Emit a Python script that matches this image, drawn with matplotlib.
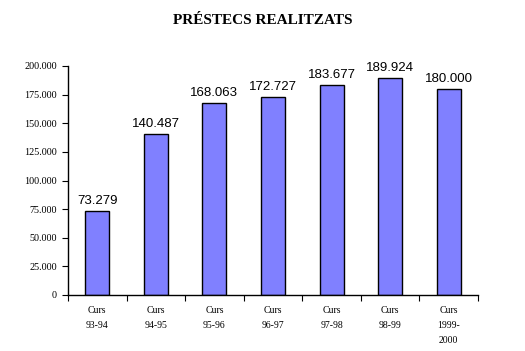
import matplotlib
matplotlib.use("Agg")
import matplotlib.pyplot as plt
from matplotlib.ticker import FuncFormatter

categories = ["Curs\n93-94", "Curs\n94-95", "Curs\n95-96", "Curs\n96-97", "Curs\n97-98", "Curs\n98-99", "Curs\n1999-\n2000"]
values = [73279, 140487, 168063, 172727, 183677, 189924, 180000]
value_labels = ["73.279", "140.487", "168.063", "172.727", "183.677", "189.924", "180.000"]
yticks = [0, 25000, 50000, 75000, 100000, 125000, 150000, 175000, 200000]

plt.rcParams['font.family'] = ['Liberation Serif', 'DejaVu Serif']

fig = plt.figure(figsize=(5.25, 3.51), dpi=100)
ax = fig.add_axes([68/525, 1-295/351, (478-68)/525, (295-66)/351])

x = list(range(len(values)))
ax.bar(x, values, width=0.41, color='#8080FF', edgecolor='black', linewidth=1.0)
for xi, v, lab in zip(x, values, value_labels):
    ax.text(xi, v + 3500, lab, ha='center', va='bottom', fontsize=9.5, family=['Liberation Sans', 'DejaVu Sans'])

ax.set_xlim(-0.5, len(values) - 0.5)
ax.set_ylim(0, 200000)
ax.set_yticks(yticks)
ax.yaxis.set_major_formatter(FuncFormatter(lambda v, p: "0" if v == 0 else f"{int(v):,}".replace(",", ".")))
ax.tick_params(axis='y', direction='out', length=4, labelsize=7.3, pad=4)

ax.set_xticks([i - 0.5 for i in range(len(values) + 1)])
ax.set_xticklabels([])
ax.set_xticks(x, minor=True)
ax.set_xticklabels(categories, minor=True, fontsize=7, linespacing=1.85, va='top')
ax.tick_params(axis='x', which='major', direction='out', length=4)
ax.tick_params(axis='x', which='minor', length=0, pad=8)

for s in ['top', 'right']:
    ax.spines[s].set_visible(False)
for s in ['left', 'bottom']:
    ax.spines[s].set_linewidth(1.0)

fig.text(0.5, 1 - 20/351, "PRÉSTECS REALITZATS", ha='center', va='center', fontsize=11, fontweight='bold')

fig.savefig("out.png", dpi=100)
